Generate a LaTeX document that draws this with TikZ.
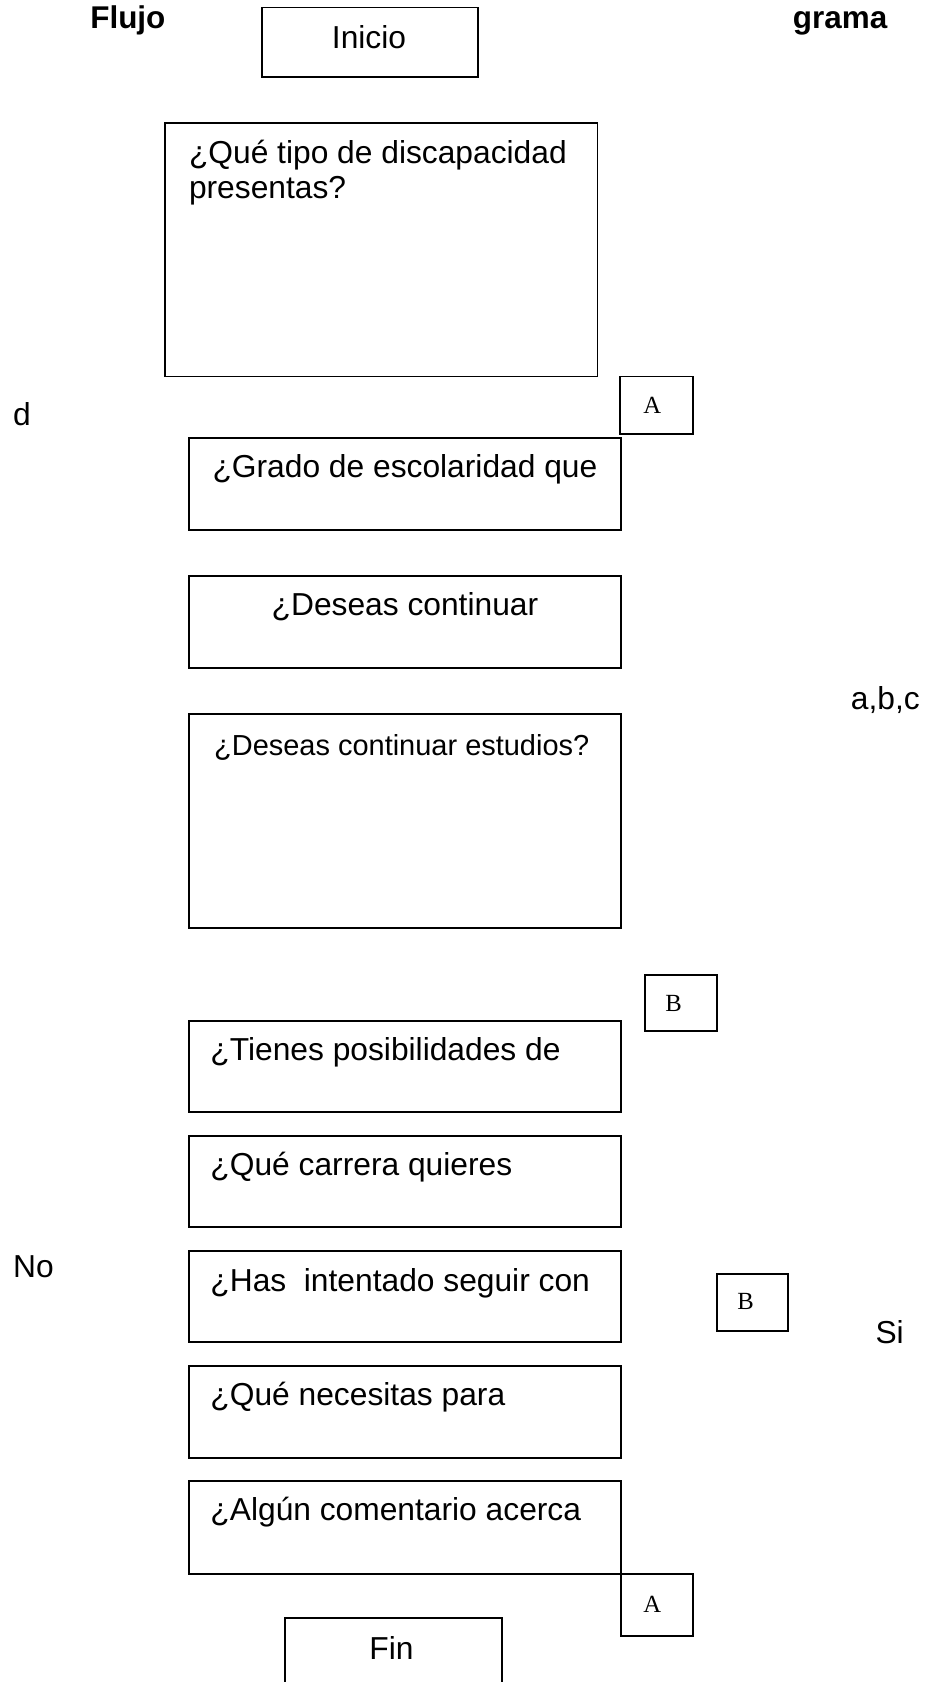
\documentclass[tikz,border=0pt]{standalone}
\usepackage{fontspec}
\setmainfont{Liberation Sans}
\newfontfamily\timesfont{Liberation Serif}
\tikzset{
  box/.style={draw, line width=1.8pt, rectangle, inner sep=0pt, outer sep=0pt, anchor=north west},
  txt/.style={inner sep=0pt, font=\fontsize{29.6}{33}\selectfont},
  txts/.style={inner sep=0pt, font=\fontsize{27}{33}\selectfont},
  txtb/.style={inner sep=0pt, font=\fontsize{29.3}{33}\selectfont\bfseries},
  letter/.style={inner sep=0pt, anchor=base, font=\fontsize{23}{26}\selectfont\timesfont},
}
\begin{document}
\begin{tikzpicture}[x=1pt,y=-1pt]
\path[use as bounding box, fill=white] (0,0) rectangle (864,1568);
% boxes
\node[box, minimum width=202, minimum height=65] (inicio) at (244,7) {};
\node[box, minimum width=403, minimum height=236] (q1) at (154,115) {};
\node[box, minimum width=68, minimum height=54] (A1) at (578,351) {};
\node[box, minimum width=403, minimum height=86] (grado) at (176,408) {};
\node[box, minimum width=403, minimum height=86] (deseas1) at (176,537) {};
\node[box, minimum width=403, minimum height=199] (deseas2) at (176,666) {};
\node[box, minimum width=67, minimum height=52] (B1) at (601,909) {};
\node[box, minimum width=403, minimum height=85] (tienes) at (176,952) {};
\node[box, minimum width=403, minimum height=85] (carrera) at (176,1059) {};
\node[box, minimum width=403, minimum height=85] (has) at (176,1166) {};
\node[box, minimum width=67, minimum height=53] (B2) at (668,1188) {};
\node[box, minimum width=403, minimum height=86] (necesitas) at (176,1273) {};
\node[box, minimum width=403, minimum height=86] (algun) at (176,1381) {};
\node[box, minimum width=67, minimum height=58] (A2) at (algun.south east) {};
\node[box, minimum width=202, minimum height=120] (fin) at (266,1508) {};
% texts
\node[txtb, anchor=base west] (flujo) at (84,27) {Flujo};
\node[txtb, anchor=base west] (grama) at (739,27) {grama};
\node[txt, anchor=base] (tinicio) at (344,45) {Inicio};
\node[txt, anchor=north west, align=left] (tq1) at (176,125) {\rule{0pt}{27pt}¿Qué tipo de discapacidad\\presentas?};
\node[letter] (tA1) at (608,385.5) {A};
\node[txt, anchor=base west] (td) at (12,397) {d};
\node[txt, anchor=base] (tgrado) at (377.5,445) {¿Grado de escolaridad que};
\node[txt, anchor=base] (tdeseas1) at (377.5,574) {¿Deseas continuar};
\node[txt, anchor=base west] (tabc) at (793,661) {a,b,c};
\node[txts, anchor=base] (tdeseas2) at (374.5,704) {¿Deseas continuar estudios?};
\node[letter] (tB1) at (628,943) {B};
\node[txt, anchor=base west] (ttienes) at (196,989) {¿Tienes posibilidades de};
\node[txt, anchor=base west] (tcarrera) at (196,1096) {¿Qué carrera quieres};
\node[txt, anchor=base west] (tno) at (12,1191) {No};
\node[txt, anchor=base west] (thas) at (196,1204) {¿Has\ \ intentado seguir con};
\node[letter] (tB2) at (695,1221) {B};
\node[txt, anchor=base west] (tsi) at (816,1252) {Si};
\node[txt, anchor=base west] (tnecesitas) at (196,1310) {¿Qué necesitas para};
\node[txt, anchor=base west] (talgun) at (196,1417) {¿Algún comentario acerca};
\node[letter] (tA2) at (608,1503) {A};
\node[txt, anchor=base] (tfin) at (365,1547) {Fin};
\end{tikzpicture}
\end{document}
